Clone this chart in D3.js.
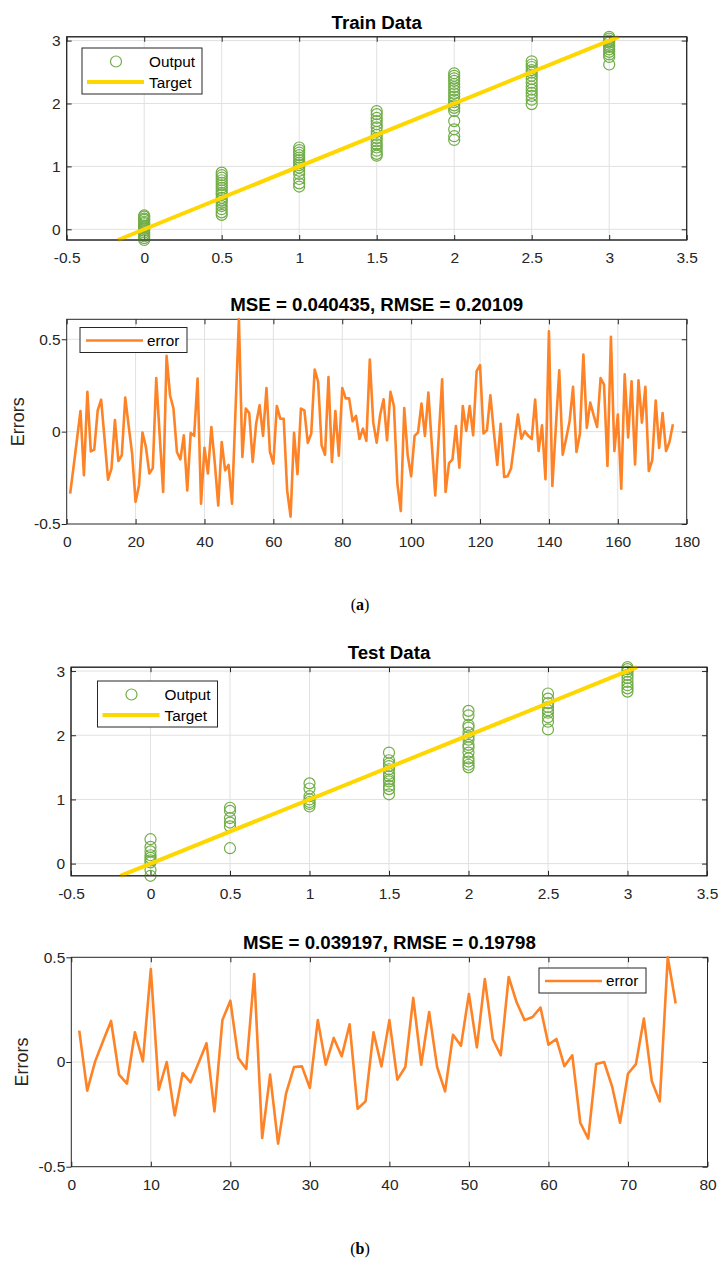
<!DOCTYPE html>
<html>
<head>
    <meta charset="utf-8" />
    <title>Train / Test Data</title>
    <script src="https://cdn.jsdelivr.net/npm/d3@7"></script>
    <style>
        body { margin: 0; background: #fff; }
        svg text { font-family: "Liberation Sans", Arial, sans-serif; fill: #262626; }
        .tick text { font-size: 15.5px; }
        .title { font-size: 18.7px; font-weight: bold; fill: #000; }
        .ylab { font-size: 18px; }
        .leg text { font-size: 15.3px; fill: #000; }
        .cap { font-family: "Liberation Serif", "DejaVu Serif", serif; font-size: 16px; fill: #000; }
    </style>
</head>
<body>
<svg id="fig" width="719" height="1262"></svg>
<script>
// categories (target classes) and tick labels
var classes = [0, 0.5, 1, 1.5, 2, 2.5, 3];
var classTicks = [-0.5, 0, 0.5, 1, 1.5, 2, 2.5, 3, 3.5];
var outTicks = [0, 1, 2, 3];
var errTicks = [-0.5, 0, 0.5];
var trainIdxTicks = [0, 20, 40, 60, 80, 100, 120, 140, 160, 180];
var testIdxTicks = [0, 10, 20, 30, 40, 50, 60, 70, 80];

// network outputs, one list per class
var trainOutputs = [
    [0.22, 0.2, 0.17, 0.15, 0.12, 0.1, 0.08, 0.05, 0.03, 0.01, -0.02, -0.05, -0.08, -0.11, -0.14, -0.17],
    [0.9, 0.86, 0.82, 0.78, 0.74, 0.7, 0.66, 0.62, 0.58, 0.55, 0.5, 0.46, 0.42, 0.37, 0.32, 0.27, 0.23],
    [1.3, 1.26, 1.22, 1.18, 1.14, 1.1, 1.06, 1.02, 0.98, 0.93, 0.88, 0.8, 0.73, 0.68],
    [1.88, 1.83, 1.77, 1.72, 1.67, 1.62, 1.55, 1.5, 1.45, 1.4, 1.35, 1.3, 1.25, 1.2, 1.17],
    [2.48, 2.44, 2.4, 2.36, 2.31, 2.26, 2.21, 2.16, 2.11, 2.06, 2.02, 1.97, 1.93, 1.88, 1.72, 1.59, 1.48, 1.42],
    [2.67, 2.62, 2.58, 2.53, 2.49, 2.44, 2.39, 2.33, 2.27, 2.22, 2.17, 2.12, 2.06, 1.99],
    [3.06, 3.03, 3.0, 2.97, 2.93, 2.9, 2.86, 2.82, 2.78, 2.74, 2.62]
];
var testOutputs = [
    [0.38, 0.26, 0.19, 0.13, 0.09, 0.05, 0.02, -0.1, -0.19],
    [0.87, 0.82, 0.71, 0.64, 0.58, 0.24],
    [1.25, 1.17, 1.05, 1.0, 0.96, 0.93, 0.89],
    [1.73, 1.61, 1.56, 1.52, 1.47, 1.4, 1.36, 1.31, 1.28, 1.21, 1.16, 1.08],
    [2.38, 2.31, 2.16, 2.12, 2.04, 1.98, 1.93, 1.85, 1.81, 1.73, 1.64, 1.59, 1.54, 1.5],
    [2.65, 2.57, 2.5, 2.44, 2.39, 2.35, 2.28, 2.21, 2.09],
    [3.06, 3.03, 2.99, 2.94, 2.89, 2.83, 2.78, 2.73, 2.68]
];

// errors per sample (sample number = index + 1)
var trainErrors = [
    -0.336, -0.19, -0.04, 0.112, -0.236, 0.215, -0.107, -0.097, 0.115, 0.173,
    -0.04, -0.26, -0.2, 0.063, -0.159, -0.128, 0.184, 0.03, -0.12, -0.38,
    -0.29, -0.005, -0.083, -0.227, -0.197, 0.29, -0.02, -0.327, 0.41, 0.197,
    0.125, -0.11, -0.15, -0.02, -0.318, -0.007, -0.023, 0.287, -0.39, -0.087,
    -0.227, 0.025, -0.17, -0.4, -0.056, -0.21, -0.18, -0.39, 0.11, 0.608,
    -0.137, 0.125, 0.1, -0.164, 0.043, 0.143, -0.023, 0.236, -0.11, -0.173,
    0.139, 0.07, 0.07, -0.318, -0.46, -0.007, -0.23, 0.125, 0.115, -0.061,
    -0.011, 0.336, 0.27, -0.074, -0.125, 0.296, -0.164, 0.112, -0.13, 0.236,
    0.18, 0.18, 0.056, 0.085, -0.04, 0.016, -0.05, 0.39, 0.05, -0.06,
    0.09, 0.175, -0.047, 0.215, 0.139, -0.28, -0.43, 0.128, -0.128, -0.242,
    -0.023, -0.005, 0.152, -0.023, 0.211, -0.07, -0.345, -0.03, 0.283, -0.327,
    -0.17, -0.15, 0.03, -0.195, 0.139, 0.004, 0.139, -0.02, 0.327, 0.36,
    -0.01, 0.007, 0.197, 0.0, -0.18, 0.043, -0.245, -0.242, -0.2, -0.056,
    0.092, -0.038, 0.002, -0.023, -0.04, 0.173, -0.105, 0.034, -0.258, 0.543,
    -0.294, 0.02, 0.332, -0.125, -0.038, 0.056, 0.242, -0.11, -0.011, 0.417,
    0.02, 0.157, 0.088, 0.025, 0.29, 0.254, -0.186, 0.513, -0.105, 0.092,
    -0.309, 0.31, -0.032, 0.273, -0.177, 0.278, 0.049, 0.242, -0.213, -0.155,
    0.168, -0.088, 0.1, -0.105, -0.056, 0.04
];
var testErrors = [
    0.15, -0.137, 0.003, 0.1, 0.196, -0.06, -0.103, 0.142, 0.003, 0.444,
    -0.132, 0.0, -0.255, -0.053, -0.097, -0.005, 0.09, -0.236, 0.2, 0.293,
    0.019, -0.033, 0.42, -0.363, -0.06, -0.39, -0.151, -0.024, -0.021, -0.124,
    0.2, -0.013, 0.115, 0.027, 0.18, -0.223, -0.188, 0.142, -0.021, 0.2,
    -0.084, -0.024, 0.306, -0.013, 0.239, -0.024, -0.14, 0.13, 0.078, 0.325,
    0.07, 0.396, 0.11, 0.032, 0.406, 0.285, 0.2, 0.215, 0.26, 0.083,
    0.11, -0.02, 0.032, -0.29, -0.366, -0.01, 0.0, -0.116, -0.29, -0.056,
    -0.01, 0.207, -0.092, -0.188, 0.5, 0.279
];

var GREEN = "#70AD47", GOLD = "#FFD700", ORANGE = "#FD8326", INK = "#262626", GRID = "#E1E1E1";
var svg = d3.select("#fig");

// MATLAB style axes: box, light grid, ticks on all four sides
function frame(g, x, y, xt, yt, leftOut) {
    var x0 = x.range()[0], x1 = x.range()[1], y0 = y.range()[0], y1 = y.range()[1];
    g.append("g").selectAll("line").data(xt.filter(function (d) { return d > x.domain()[0] && d < x.domain()[1]; }))
        .enter().append("line")
        .attr("x1", x).attr("x2", x).attr("y1", y1).attr("y2", y0)
        .attr("stroke", GRID);
    g.append("g").selectAll("line").data(yt.filter(function (d) { return d > y.domain()[0] && d < y.domain()[1]; }))
        .enter().append("line")
        .attr("x1", x0).attr("x2", x1).attr("y1", y).attr("y2", y)
        .attr("stroke", GRID);

    var fmt = function (d) { return String(d); };
    var parts = [
        [d3.axisBottom(x).tickValues(xt).tickFormat(fmt).tickPadding(12), "translate(0," + y0 + ")", -5],
        [d3.axisTop(x).tickValues(xt).tickFormat(""), "translate(0," + y1 + ")", -5],
        [d3.axisLeft(y).tickValues(yt).tickFormat(fmt).tickPadding(leftOut ? 1 : 6), "translate(" + x0 + ",0)", leftOut ? 5 : -5],
        [d3.axisRight(y).tickValues(yt).tickFormat(""), "translate(" + x1 + ",0)", -5]
    ];
    parts.forEach(function (p) {
        var a = g.append("g").attr("transform", p[1]).call(p[0].tickSizeInner(p[2]).tickSizeOuter(0));
        a.select(".domain").remove();
        a.selectAll(".tick line").attr("stroke", INK);
        a.selectAll(".tick text").attr("font-family", null).attr("font-size", null).attr("fill", INK);
    });
    g.append("rect")
        .attr("x", x0).attr("y", y1).attr("width", x1 - x0).attr("height", y0 - y1)
        .attr("fill", "none").attr("stroke", INK).attr("stroke-width", 1);
}

function title(txt, x, y) {
    svg.append("text").attr("class", "title")
        .attr("x", (x.range()[0] + x.range()[1]) / 2).attr("y", y.range()[1] - 8)
        .attr("text-anchor", "middle").text(txt);
}

function scatterPanel(outputs, box, name, leg) {
    var all = d3.merge(outputs);
    var x = d3.scaleLinear().domain([-0.5, 3.5]).range([box.l, box.r]);
    var y = d3.scaleLinear().domain(d3.extent(all)).range([box.b, box.t]);
    var g = svg.append("g");
    frame(g, x, y, classTicks, outTicks, false);

    var pts = [];
    outputs.forEach(function (list, i) {
        list.forEach(function (v) { pts.push({ t: classes[i], o: v }); });
    });
    g.append("g").selectAll("circle").data(pts).enter().append("circle")
        .attr("cx", function (d) { return x(d.t); })
        .attr("cy", function (d) { return y(d.o); })
        .attr("r", 5.5)
        .attr("fill", "none").attr("stroke", GREEN).attr("stroke-width", 1.2);

    // target line spans the output range
    var ext = y.domain();
    g.append("line")
        .attr("x1", x(ext[0])).attr("y1", y(ext[0]))
        .attr("x2", x(ext[1])).attr("y2", y(ext[1]))
        .attr("stroke", GOLD).attr("stroke-width", 4);
    g.append("rect")
        .attr("x", box.l).attr("y", box.t).attr("width", box.r - box.l).attr("height", box.b - box.t)
        .attr("fill", "none").attr("stroke", INK);

    title(name, x, y);

    var lg = svg.append("g").attr("class", "leg").attr("transform", "translate(" + leg[0] + "," + leg[1] + ")");
    lg.append("rect").attr("width", 120).attr("height", 46).attr("fill", "#fff").attr("stroke", INK);
    lg.append("circle").attr("cx", 34).attr("cy", 13.5).attr("r", 5.5)
        .attr("fill", "none").attr("stroke", GREEN).attr("stroke-width", 1.2);
    lg.append("text").attr("x", 67).attr("y", 19).text("Output");
    lg.append("line").attr("x1", 5).attr("x2", 62).attr("y1", 34).attr("y2", 34)
        .attr("stroke", GOLD).attr("stroke-width", 4);
    lg.append("text").attr("x", 67).attr("y", 39.5).text("Target");
}

function errorPanel(errors, box, xMax, xt, name, leg) {
    var x = d3.scaleLinear().domain([0, xMax]).range([box.l, box.r]);
    var y = d3.scaleLinear().domain([-0.5, Math.max(0.5, d3.max(errors))]).range([box.b, box.t]);
    var g = svg.append("g");
    frame(g, x, y, xt, errTicks, true);

    var line = d3.line()
        .x(function (d, i) { return x(i + 1); })
        .y(function (d) { return y(d); });
    g.append("path").datum(errors)
        .attr("d", line)
        .attr("fill", "none").attr("stroke", ORANGE).attr("stroke-width", 2.6)
        .attr("stroke-linejoin", "round");

    title(name, x, y);
    svg.append("text").attr("class", "ylab")
        .attr("transform", "translate(" + (box.l - 43) + "," + ((box.t + box.b) / 2) + ") rotate(-90)")
        .attr("text-anchor", "middle").text("Errors");

    var lg = svg.append("g").attr("class", "leg").attr("transform", "translate(" + leg[0] + "," + leg[1] + ")");
    lg.append("rect").attr("width", 107).attr("height", 25).attr("fill", "#fff").attr("stroke", INK);
    lg.append("line").attr("x1", 6).attr("x2", 63).attr("y1", 13).attr("y2", 13)
        .attr("stroke", ORANGE).attr("stroke-width", 2.6);
    lg.append("text").attr("x", 67).attr("y", 18).text("error");
}

scatterPanel(trainOutputs, { l: 66.7, r: 686.7, t: 36.8, b: 240 }, "Train Data", [82, 48]);
errorPanel(trainErrors, { l: 66.7, r: 686.7, t: 319.3, b: 524 }, 180, trainIdxTicks,
    "MSE = 0.040435, RMSE = 0.20109", [80, 327.5]);
svg.append("text").attr("class", "cap").attr("x", 360).attr("y", 610).attr("text-anchor", "middle")
    .html("(<tspan font-weight='bold'>a</tspan>)");

scatterPanel(testOutputs, { l: 71, r: 707, t: 667.2, b: 875.8 }, "Test Data", [97.5, 681]);
errorPanel(testErrors, { l: 71.3, r: 707.5, t: 957.3, b: 1166.7 }, 80, testIdxTicks,
    "MSE = 0.039197, RMSE = 0.19798", [539, 968]);
svg.append("text").attr("class", "cap").attr("x", 360).attr("y", 1254).attr("text-anchor", "middle")
    .html("(<tspan font-weight='bold'>b</tspan>)");
</script>
</body>
</html>
